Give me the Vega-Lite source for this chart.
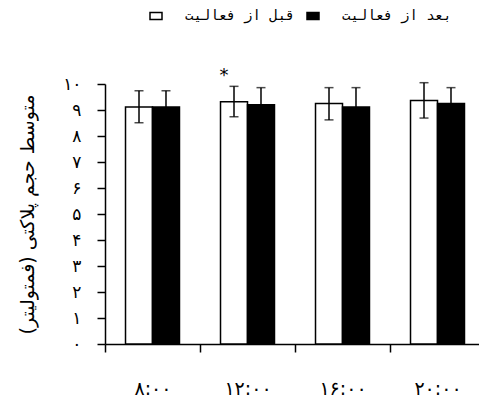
{
  "$schema": "https://vega.github.io/schema/vega-lite/v6.json",
  "autosize": {"type": "none"},
  "padding": {"left": 105, "top": 84, "right": 0, "bottom": 59},
  "width": 374,
  "height": 260,
  "background": "white",
  "data": {
    "values": [
      {"time": "۸:۰۰", "series": "قبل از فعالیت", "mean": 9.12, "lo": 8.51, "hi": 9.74, "sig": ""},
      {"time": "۸:۰۰", "series": "بعد از فعالیت", "mean": 9.12, "lo": 8.50, "hi": 9.74, "sig": ""},
      {"time": "۱۲:۰۰", "series": "قبل از فعالیت", "mean": 9.32, "lo": 8.74, "hi": 9.91, "sig": "*"},
      {"time": "۱۲:۰۰", "series": "بعد از فعالیت", "mean": 9.20, "lo": 8.54, "hi": 9.86, "sig": ""},
      {"time": "۱۶:۰۰", "series": "قبل از فعالیت", "mean": 9.25, "lo": 8.62, "hi": 9.86, "sig": ""},
      {"time": "۱۶:۰۰", "series": "بعد از فعالیت", "mean": 9.12, "lo": 8.38, "hi": 9.86, "sig": ""},
      {"time": "۲۰:۰۰", "series": "قبل از فعالیت", "mean": 9.37, "lo": 8.69, "hi": 10.05, "sig": ""},
      {"time": "۲۰:۰۰", "series": "بعد از فعالیت", "mean": 9.25, "lo": 8.64, "hi": 9.86, "sig": ""}
    ]
  },
  "encoding": {
    "x": {
      "field": "time",
      "type": "nominal",
      "sort": null,
      "scale": {"range": [0, 380], "paddingInner": 0, "paddingOuter": 0},
      "axis": {
        "title": null,
        "labelAngle": 0,
        "tickBand": "extent",
        "tickSize": 8,
        "tickWidth": 1.5,
        "domainWidth": 1.5,
        "domainColor": "black",
        "tickColor": "black",
        "labelPadding": 27,
        "labelFont": "DejaVu Sans",
        "labelFontSize": 19,
        "labelColor": "black"
      }
    },
    "xOffset": {
      "field": "series",
      "type": "nominal",
      "sort": null,
      "scale": {"domain": ["قبل از فعالیت", "بعد از فعالیت"], "paddingInner": 0, "paddingOuter": 0.76}
    }
  },
  "layer": [
    {
      "mark": {"type": "bar", "stroke": "black", "strokeWidth": 1.5},
      "encoding": {
        "y": {
          "field": "mean",
          "type": "quantitative",
          "scale": {"domain": [0, 10], "nice": false},
          "axis": {
            "values": [0, 1, 2, 3, 4, 5, 6, 7, 8, 9, 10],
            "labelOverlap": false,
            "labelExpr": "['۰','۱','۲','۳','۴','۵','۶','۷','۸','۹','۱۰'][datum.value]",
            "title": "متوسط حجم پلاکتی (فمتولیتر)",
            "titleFont": "DejaVu Sans",
            "titleFontSize": 19,
            "titleFontWeight": "normal",
            "titleColor": "black",
            "titlePadding": 25,
            "tickSize": 8,
            "tickWidth": 1.5,
            "domainWidth": 1.5,
            "domainColor": "black",
            "tickColor": "black",
            "labelPadding": 16,
            "labelFont": "DejaVu Sans",
            "labelFontSize": 17,
            "labelColor": "black"
          }
        },
        "fill": {
          "field": "series",
          "type": "nominal",
          "sort": null,
          "scale": {"domain": ["قبل از فعالیت", "بعد از فعالیت"], "range": ["white", "black"]},
          "legend": {
            "title": null,
            "orient": "none",
            "direction": "horizontal",
            "legendX": 44,
            "legendY": -75,
            "padding": 0,
            "symbolType": "M-1,-0.6H1V0.6H-1Z",
            "symbolSize": 144,
            "symbolStrokeColor": "black",
            "symbolStrokeWidth": 1.5,
            "labelOffset": 22,
            "columnPadding": 9,
            "labelFont": "DejaVu Sans Mono",
            "labelFontSize": 14,
            "labelColor": "black",
            "labelLimit": 300
          }
        }
      }
    },
    {
      "mark": {"type": "rule", "color": "black", "strokeWidth": 1.5},
      "encoding": {
        "y": {
          "field": "lo",
          "type": "quantitative",
          "axis": {
            "values": [0, 1, 2, 3, 4, 5, 6, 7, 8, 9, 10],
            "labelOverlap": false,
            "labelExpr": "['۰','۱','۲','۳','۴','۵','۶','۷','۸','۹','۱۰'][datum.value]",
            "title": "متوسط حجم پلاکتی (فمتولیتر)"
          }
        },
        "y2": {"field": "hi"}
      }
    },
    {
      "mark": {"type": "tick", "color": "black", "size": 9, "thickness": 1.5},
      "encoding": {
        "y": {
          "field": "hi",
          "type": "quantitative",
          "axis": {
            "values": [0, 1, 2, 3, 4, 5, 6, 7, 8, 9, 10],
            "labelOverlap": false,
            "labelExpr": "['۰','۱','۲','۳','۴','۵','۶','۷','۸','۹','۱۰'][datum.value]",
            "title": "متوسط حجم پلاکتی (فمتولیتر)"
          }
        }
      }
    },
    {
      "mark": {"type": "tick", "color": "black", "size": 9, "thickness": 1.5},
      "encoding": {
        "y": {
          "field": "lo",
          "type": "quantitative",
          "axis": {
            "values": [0, 1, 2, 3, 4, 5, 6, 7, 8, 9, 10],
            "labelOverlap": false,
            "labelExpr": "['۰','۱','۲','۳','۴','۵','۶','۷','۸','۹','۱۰'][datum.value]",
            "title": "متوسط حجم پلاکتی (فمتولیتر)"
          }
        }
      }
    },
    {
      "transform": [{"filter": "datum.sig !== ''"}],
      "mark": {"type": "text", "font": "DejaVu Sans", "fontSize": 18, "color": "black", "baseline": "middle", "dx": -10, "dy": -10},
      "encoding": {
        "y": {
          "field": "hi",
          "type": "quantitative",
          "axis": {
            "values": [0, 1, 2, 3, 4, 5, 6, 7, 8, 9, 10],
            "labelOverlap": false,
            "labelExpr": "['۰','۱','۲','۳','۴','۵','۶','۷','۸','۹','۱۰'][datum.value]",
            "title": "متوسط حجم پلاکتی (فمتولیتر)"
          }
        },
        "text": {"field": "sig"}
      }
    }
  ],
  "config": {
    "view": {"stroke": null},
    "axis": {"grid": false}
  }
}
